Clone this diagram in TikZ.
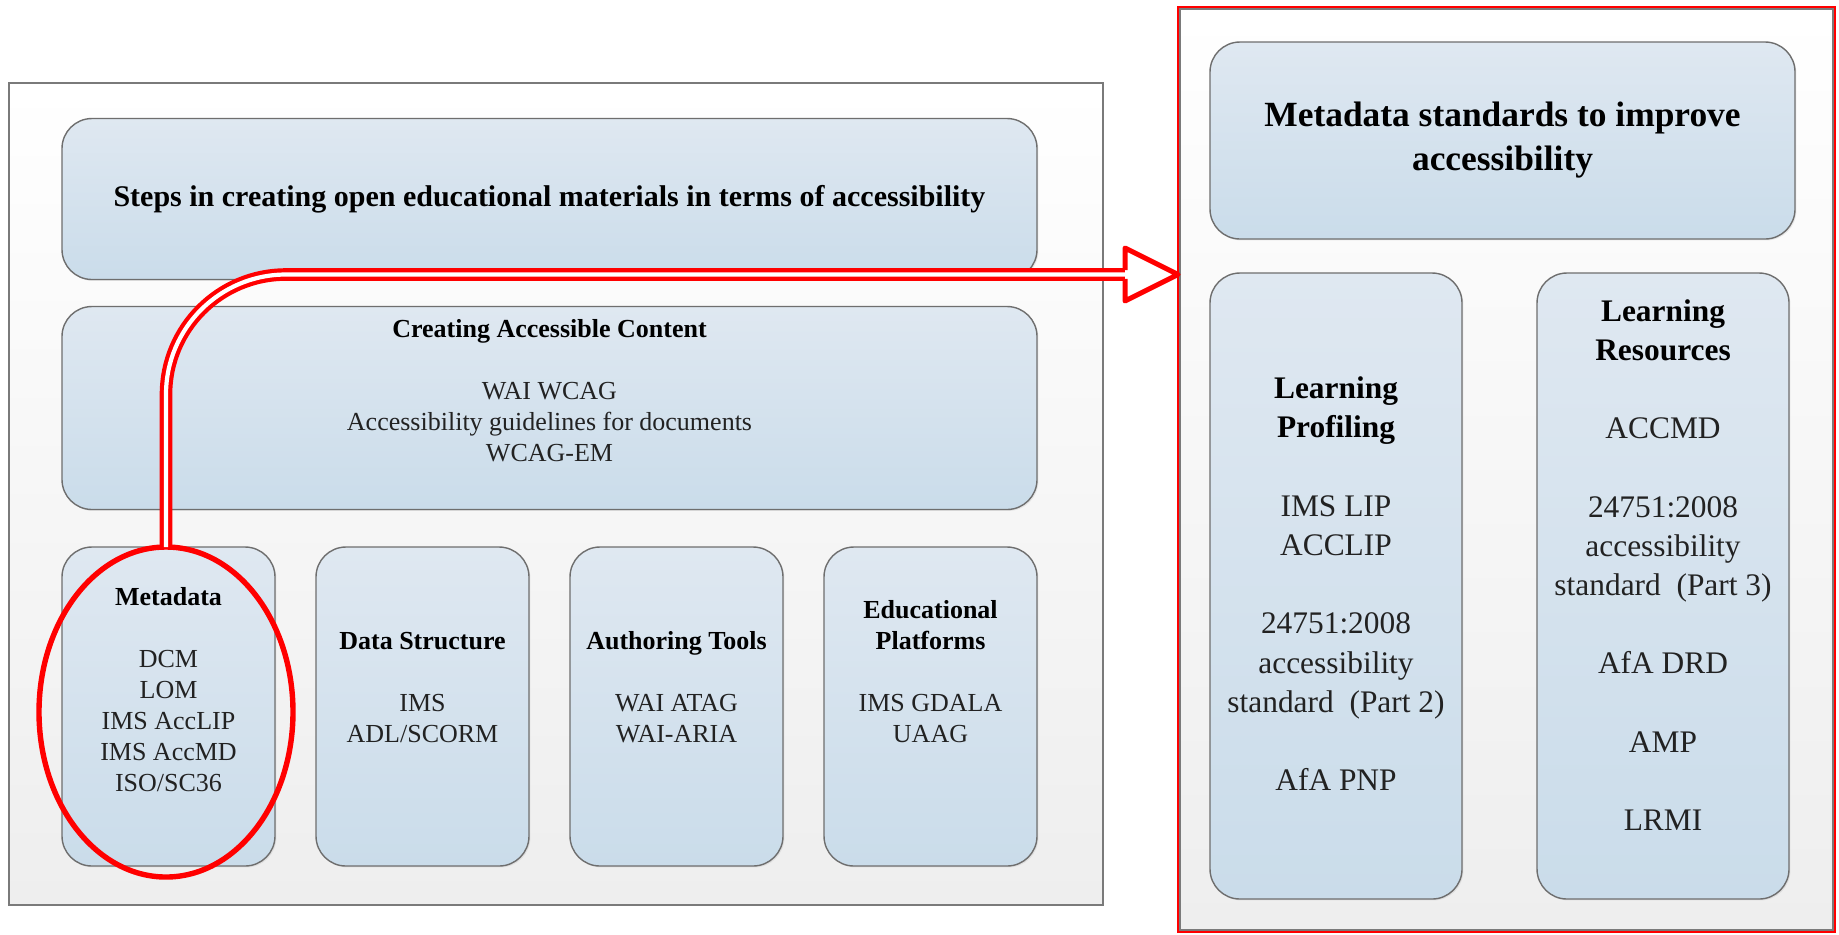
\documentclass[tikz,border=0pt]{standalone}
\usepackage{fontspec}
\setmainfont{Liberation Serif}
\usetikzlibrary{positioning,shapes.geometric,shadows}

\definecolor{boxtop}{HTML}{DFE8F1}
\definecolor{boxbottom}{HTML}{CADCEA}
\definecolor{boxline}{HTML}{6E6E6E}
\definecolor{framebottom}{HTML}{EEEEEE}
\definecolor{frameline}{HTML}{7A7A7A}
\definecolor{bodytext}{HTML}{222222}
\newcommand{\boxhead}[1]{{\color{black}\bfseries #1}}

\begin{document}
\begin{tikzpicture}[x=0.5pt, y=-0.5pt, node distance=20.5pt, inner sep=0pt, outer sep=0pt]
\tikzstyle{outerframe}=[rectangle, draw=frameline, line width=0.7pt, top color=white, bottom color=framebottom]
\tikzstyle{stdblock}=[rectangle, rounded corners=15pt, draw=boxline, line width=0.7pt, top color=boxtop, bottom color=boxbottom, drop shadow={shadow xshift=0.7pt, shadow yshift=-0.7pt, opacity=0.15}]
\tikzstyle{lowblock}=[stdblock, minimum width=106.5pt, minimum height=159.5pt]
\tikzstyle{tallblock}=[stdblock, minimum width=126pt, minimum height=313pt]
\tikzstyle{smalltext}=[align=center, text=bodytext, font=\fontsize{13}{15.5}\selectfont]
\tikzstyle{bigtext}=[align=center, text=bodytext, font=\fontsize{15.7}{19.6}\selectfont]
\tikzstyle{redring}=[ellipse, draw=red, line width=2.7pt, minimum width=127pt, minimum height=165pt]
\tikzstyle{shaft}=[draw=red, double=white, line width=2.1pt, double distance=2.1pt, rounded corners=60pt]
\tikzstyle{redhead}=[draw=red, fill=white, line width=2.5pt, line join=round]

\useasboundingbox (0,0) rectangle (1839,934);

% steps for open educational materials
\node[outerframe, minimum width=547pt, minimum height=411pt] (stepsframe) at (556,494) {};
\node[stdblock, minimum width=487.5pt, minimum height=80.5pt, font=\fontsize{15}{18}\selectfont\bfseries] (steps) at (549.5,199) {Steps in creating open educational materials in terms of accessibility};
\node[stdblock, minimum width=487.5pt, minimum height=101.5pt, below=13.5pt of steps] (content) {};
\node[lowblock] (metadata) at (168.5,706.5) {};
\node[lowblock, right=of metadata] (structure) {};
\node[lowblock, right=of structure] (authoring) {};
\node[lowblock, right=of authoring] (platforms) {};

\node[smalltext] (contenttext) at ([yshift=8.75pt]content.center) {\boxhead{Creating Accessible Content}\\[15.5pt]WAI WCAG\\Accessibility guidelines for documents\\WCAG-EM};
\node[smalltext] (metadatatext) at ([yshift=8.25pt]metadata.center) {\boxhead{Metadata}\\[15.5pt]DCM\\LOM\\IMS AccLIP\\IMS AccMD\\ISO/SC36};
\node[smalltext] (structuretext) at ([yshift=9.5pt]structure.center) {\boxhead{Data Structure}\\[15.5pt]IMS\\ADL/SCORM};
\node[smalltext] (authoringtext) at ([yshift=9.5pt]authoring.center) {\boxhead{Authoring Tools}\\[15.5pt]WAI ATAG\\WAI-ARIA};
\node[smalltext] (platformstext) at ([yshift=17.5pt]platforms.center) {\boxhead{Educational}\\\boxhead{Platforms}\\[15.5pt]IMS GDALA\\UAAG};

% metadata standards
\node[outerframe, minimum width=326.5pt, minimum height=460.5pt] (mdframe) at (1506.5,469.5) {};
\draw[red, line width=1.2pt] ([xshift=-1pt,yshift=1pt]mdframe.north west) rectangle ([xshift=1pt,yshift=-1pt]mdframe.south east);
\node[stdblock, minimum width=292.5pt, minimum height=98.5pt, align=center, font=\fontsize{17.7}{22}\selectfont\bfseries] (mdstandards) at (1502.5,140.5) {Metadata standards to improve\\accessibility};
\node[tallblock] (profiling) at (1336,586) {};
\node[tallblock, right=37.5pt of profiling] (resources) {};

\node[bigtext] (profilingtext) at ([yshift=1.1pt]profiling.center) {\boxhead{Learning}\\\boxhead{Profiling}\\[19.6pt]IMS LIP\\ACCLIP\\[19.6pt]24751:2008\\accessibility\\standard~ (Part 2)\\[19.6pt]AfA PNP};
\node[bigtext] (resourcestext) at ([yshift=10.5pt]resources.center) {\boxhead{Learning}\\\boxhead{Resources}\\[19.6pt]ACCMD\\[19.6pt]24751:2008\\accessibility\\standard~ (Part 3)\\[19.6pt]AfA DRD\\[19.6pt]AMP\\[19.6pt]LRMI};

% highlight and link
\node[redring] (metaring) at (166,712) {};
\coordinate (tip) at (1178,274.5);
\coordinate (headbase) at (1125,274.5);
\draw[shaft] (metaring.north) |- (headbase);
\draw[redhead] ([yshift=2.2pt]headbase) -- ([yshift=13.25pt]headbase) -- (tip) -- ([yshift=-13.25pt]headbase) -- ([yshift=-2.2pt]headbase);
\end{tikzpicture}
\end{document}
